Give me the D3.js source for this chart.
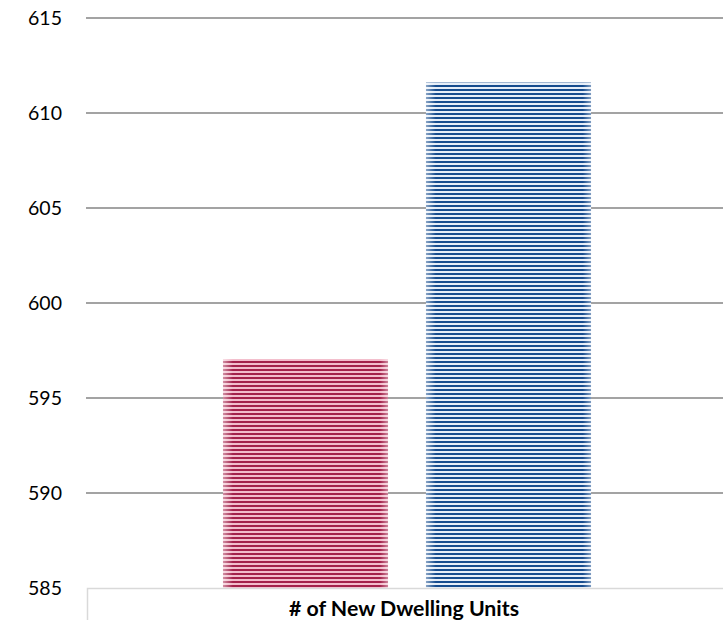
<!DOCTYPE html>
<html><head><meta charset="utf-8">
<script src="https://cdn.jsdelivr.net/npm/d3@7"></script>
<style>html,body{margin:0;padding:0;background:#fff;}svg{display:block;}</style>
</head><body>
<script>
const categories = ["# of New Dwelling Units"];
const seriesNames = ["Series 1", "Series 2"];
const seriesValues = [597.05, 611.6];
const tickValues = [585, 590, 595, 600, 605, 610, 615];

const W = 723, H = 620;
const svg = d3.select("body").append("svg").attr("width", W).attr("height", H);
const defs = svg.append("defs");

function stripe(id, dark, light) {
  const p = defs.append("pattern").attr("id", id).attr("patternUnits", "userSpaceOnUse")
    .attr("width", 8).attr("height", 4);
  p.append("rect").attr("width", 8).attr("height", 4).attr("fill", light);
  p.append("rect").attr("y", 1).attr("width", 8).attr("height", 2).attr("fill", dark);
}
stripe("pRed", "#a3214a", "#f2bccb");
stripe("pBlue", "#164c8e", "#e6eef8");
const eg = defs.append("linearGradient").attr("id", "edge").attr("x1", 0).attr("x2", 1);
[[0, 0.5], [0.06, 0], [0.95, 0], [1, 0.45]].forEach(([o, a]) =>
  eg.append("stop").attr("offset", o).attr("stop-color", "#fff").attr("stop-opacity", a));

const fills = ["url(#pRed)", "url(#pBlue)"];

const y = d3.scaleLinear().domain([585, 615]).range([588, 18]);
const x0 = d3.scaleBand().domain(categories).range([87, 723]);
const x1 = d3.scaleBand().domain(seriesNames).range([2, x0.bandwidth() + 2])
  .paddingInner(0.187).paddingOuter(0.66);

// gridlines
svg.append("g").selectAll("line").data(tickValues.filter(v => v > 585)).join("line")
  .attr("x1", 86).attr("x2", W).attr("y1", d => y(d)).attr("y2", d => y(d))
  .attr("stroke", "#858585").attr("stroke-width", 1.3);

// y axis labels
const yAxis = d3.axisLeft(y).tickValues(tickValues).tickSize(0).tickPadding(0);
const ga = svg.append("g").attr("transform", "translate(62,0)").call(yAxis);
ga.select(".domain").remove();
ga.selectAll("text").attr("font-family", "Lato, 'Open Sans', sans-serif")
  .attr("font-size", 19.5).attr("fill", "#000");

// bars
const gb = svg.append("g").attr("transform", `translate(${x0(categories[0])},0)`);
seriesNames.forEach((s, i) => {
  const bx = x1(s), bw = x1.bandwidth(), by = y(seriesValues[i]), bh = y(585) - y(seriesValues[i]);
  gb.append("rect").attr("x", bx).attr("y", by).attr("width", bw).attr("height", bh).attr("fill", fills[i]);
  gb.append("rect").attr("x", bx).attr("y", by).attr("width", bw).attr("height", bh).attr("fill", "url(#edge)");
});

// category axis box
svg.append("rect").attr("x", x0(categories[0]) + 0.5).attr("y", y(585) + 0.5)
  .attr("width", W).attr("height", 60).attr("fill", "#fff").attr("stroke", "#d9d9d9").attr("stroke-width", 1.5);
svg.append("g").selectAll("text").data(categories).join("text")
  .attr("x", d => x0(d) + x0.bandwidth() / 2 - 1).attr("y", 608)
  .attr("text-anchor", "middle").attr("dominant-baseline", "central")
  .attr("font-family", "Lato, 'Open Sans', sans-serif").attr("font-weight", "bold")
  .attr("font-size", 21.3).attr("fill", "#000").text(d => d);
</script>
</body></html>
